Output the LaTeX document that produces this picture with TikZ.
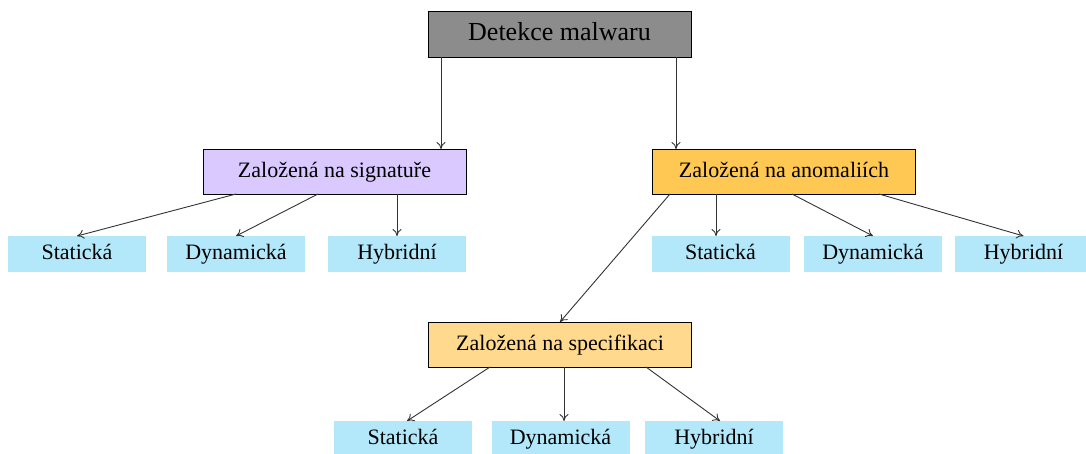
\documentclass[tikz,border=0pt]{standalone}
\usepackage{fontspec}
\setmainfont{Liberation Serif}
\usetikzlibrary{arrows.meta}

\definecolor{rootgray}{HTML}{8C8C8C}
\definecolor{siglila}{HTML}{D9C9FF}
\definecolor{anomorange}{HTML}{FFC853}
\definecolor{specorange}{HTML}{FFD98E}
\definecolor{leafblue}{HTML}{B3E8FB}
\definecolor{linegray}{HTML}{333333}

\begin{document}
\begin{tikzpicture}[x=1pt,y=-1pt]
\tikzstyle{every node}=[font=\fontsize{22}{26}\selectfont, inner sep=0pt, outer sep=0pt, text height=15pt, text depth=4pt]
\tikzstyle{method}=[draw=black, line width=1pt, minimum width=263pt, minimum height=45pt]
\tikzstyle{leaf}=[fill=leafblue, minimum width=138pt, minimum height=36pt]
\tikzstyle{edge}=[draw=linegray, line width=0.9pt, -{To[length=7pt,width=9pt]}]

\useasboundingbox (0,0) rectangle (1086,453);

\node[method, fill=rootgray, minimum height=46pt, font=\fontsize{26}{30}\selectfont, text height=18pt, text depth=5pt] (root) at (559.5,34) {Detekce malwaru};

\node[method, fill=siglila] (sig) at (334.5,171.5) {Založená na signatuře};
\node[method, fill=anomorange] (anom) at (784,171.5) {Založená na anomaliích};
\node[method, fill=specorange] (spec) at (560,344.5) {Založená na specifikaci};

\node[leaf] (sta1) at (77,254) {Statická};
\node[leaf] (dyn1) at (236,254) {Dynamická};
\node[leaf] (hyb1) at (397,254) {Hybridní};

\node[leaf] (sta2) at (720.5,254) {Statická};
\node[leaf] (dyn2) at (873,254) {Dynamická};
\node[leaf] (hyb2) at (1023.5,254) {Hybridní};

\node[leaf] (sta3) at (403,439) {Statická};
\node[leaf] (dyn3) at (560.5,439) {Dynamická};
\node[leaf] (hyb3) at (714,439) {Hybridní};

\draw[edge] ([xshift=-118.5pt]root.south) -- ([xshift=-118.5pt]root.south |- sig.north);
\draw[edge] ([xshift=116.5pt]root.south) -- ([xshift=116.5pt]root.south |- anom.north);

\draw[edge] ([xshift=-98.5pt]sig.south) -- (sta1.north);
\draw[edge] ([xshift=-16.5pt]sig.south) -- (dyn1.north);
\draw[edge] (sig.south -| hyb1.north) -- (hyb1.north);

\draw[edge] ([xshift=-68pt]anom.south) -- ([xshift=-68pt]anom.south |- sta2.north);
\draw[edge] ([xshift=8pt]anom.south) -- (dyn2.north);
\draw[edge] ([xshift=95pt]anom.south) -- (hyb2.north);
\draw[edge] ([xshift=-114pt]anom.south) -- (spec.north);

\draw[edge] ([xshift=-70pt]spec.south) -- ([xshift=4pt]sta3.north);
\draw[edge] ([xshift=4pt]spec.south) -- ([xshift=4pt]spec.south |- dyn3.north);
\draw[edge] ([xshift=86pt]spec.south) -- ([xshift=6pt]hyb3.north);

\end{tikzpicture}
\end{document}
